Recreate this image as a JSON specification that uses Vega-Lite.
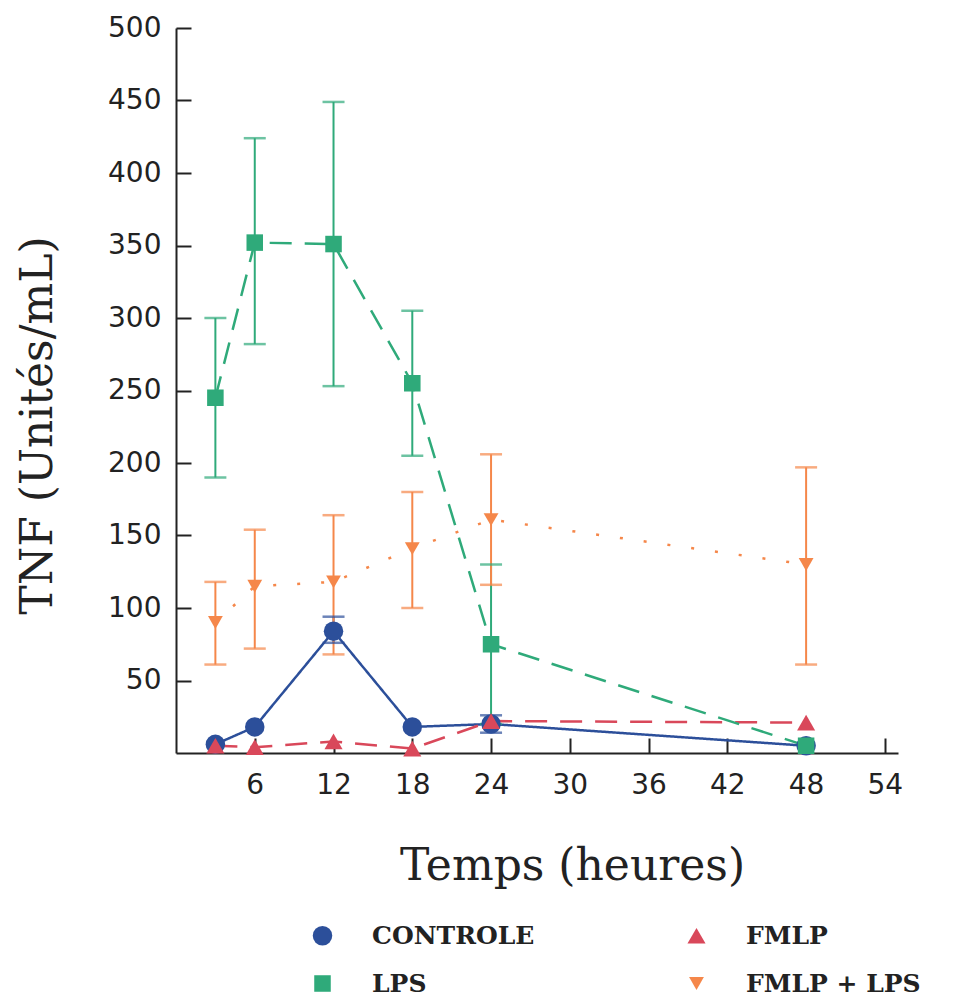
{
  "$schema": "https://vega.github.io/schema/vega-lite/v6.json",
  "width": 722,
  "height": 725,
  "autosize": "none",
  "padding": {"left": 176, "top": 28, "right": 59, "bottom": 250},
  "background": "white",
  "config": {
    "view": {"stroke": null},
    "axis": {
      "grid": false,
      "domainColor": "#222222",
      "domainWidth": 2,
      "tickColor": "#222222",
      "tickWidth": 2,
      "labelFont": "DejaVu Sans",
      "labelFontSize": 28,
      "labelColor": "#222222",
      "titleFont": "DejaVu Serif",
      "titleFontSize": 44,
      "titleFontWeight": "normal",
      "titleColor": "#222222"
    }
  },
  "data": {
    "values": [
      {"series": "CONTROLE", "t": 3, "v": 6},
      {"series": "CONTROLE", "t": 6, "v": 18},
      {"series": "CONTROLE", "t": 12, "v": 84, "lo": 76, "hi": 94},
      {"series": "CONTROLE", "t": 18, "v": 18},
      {"series": "CONTROLE", "t": 24, "v": 20, "lo": 14, "hi": 26},
      {"series": "CONTROLE", "t": 48, "v": 5},
      {"series": "FMLP", "t": 3, "v": 5},
      {"series": "FMLP", "t": 6, "v": 4},
      {"series": "FMLP", "t": 12, "v": 8},
      {"series": "FMLP", "t": 18, "v": 3},
      {"series": "FMLP", "t": 24, "v": 22},
      {"series": "FMLP", "t": 48, "v": 21},
      {"series": "LPS", "t": 3, "v": 245, "lo": 190, "hi": 300},
      {"series": "LPS", "t": 6, "v": 352, "lo": 282, "hi": 424},
      {"series": "LPS", "t": 12, "v": 351, "lo": 253, "hi": 449},
      {"series": "LPS", "t": 18, "v": 255, "lo": 205, "hi": 305},
      {"series": "LPS", "t": 24, "v": 75, "lo": 20, "hi": 130},
      {"series": "LPS", "t": 48, "v": 5},
      {"series": "FMLP + LPS", "t": 3, "v": 90, "lo": 61, "hi": 118},
      {"series": "FMLP + LPS", "t": 6, "v": 115, "lo": 72, "hi": 154},
      {"series": "FMLP + LPS", "t": 12, "v": 118, "lo": 68, "hi": 164},
      {"series": "FMLP + LPS", "t": 18, "v": 141, "lo": 100, "hi": 180},
      {"series": "FMLP + LPS", "t": 24, "v": 161, "lo": 116, "hi": 206},
      {"series": "FMLP + LPS", "t": 48, "v": 130, "lo": 61, "hi": 197}
    ]
  },
  "encoding": {
    "x": {
      "field": "t",
      "type": "quantitative",
      "scale": {"domain": [0, 55], "nice": false, "zero": false},
      "axis": {
        "values": [6, 12, 18, 24, 30, 36, 42, 48, 54],
        "tickSize": -15,
        "labelPadding": 33,
        "title": "Temps (heures)",
        "titleX": 396,
        "titleY": 113,
        "titleAlign": "center",
        "titleBaseline": "middle"
      }
    },
    "color": {
      "field": "series",
      "type": "nominal",
      "scale": {
        "domain": ["CONTROLE", "FMLP", "LPS", "FMLP + LPS"],
        "range": ["#2c4f9a", "#d9485a", "#2faa7a", "#f5874a"]
      },
      "legend": {
        "orient": "none",
        "legendX": 134,
        "legendY": 895,
        "direction": "horizontal",
        "columns": 2,
        "title": null,
        "padding": 0,
        "columnPadding": 149,
        "rowPadding": 22,
        "symbolSize": 220,
        "symbolStrokeWidth": 0,
        "symbolOpacity": 1,
        "labelOffset": 37,
        "labelLimit": 400,
        "labelFont": "DejaVu Serif",
        "labelFontWeight": "bold",
        "labelFontSize": 25,
        "labelColor": "#222222"
      }
    }
  },
  "layer": [
    {
      "mark": {"type": "line", "strokeWidth": 2.5},
      "encoding": {
        "y": {
          "field": "v",
          "type": "quantitative",
          "scale": {"domain": [0, 500], "nice": false},
          "axis": {
            "values": [50, 100, 150, 200, 250, 300, 350, 400, 450, 500],
            "tickSize": -15,
            "labelPadding": 30,
            "title": "TNF (Unités/mL)",
            "titleX": -138,
            "titleY": 397,
            "titleAngle": 270,
            "titleAlign": "center",
            "titleBaseline": "middle"
          }
        },
        "strokeDash": {
          "field": "series",
          "type": "nominal",
          "scale": {
            "domain": ["CONTROLE", "FMLP", "LPS", "FMLP + LPS"],
            "range": [[1, 0], [22, 13], [22, 13], [3, 21]]
          },
          "legend": null
        }
      }
    },
    {
      "transform": [{"filter": "isValid(datum.lo)"}],
      "mark": {"type": "rule", "strokeWidth": 2},
      "encoding": {
        "y": {"field": "lo", "type": "quantitative"},
        "y2": {"field": "hi"}
      }
    },
    {
      "transform": [{"filter": "isValid(datum.lo)"}],
      "mark": {"type": "tick", "orient": "horizontal", "size": 22, "thickness": 2.5},
      "encoding": {"y": {"field": "lo", "type": "quantitative"}}
    },
    {
      "transform": [{"filter": "isValid(datum.hi)"}],
      "mark": {"type": "tick", "orient": "horizontal", "size": 22, "thickness": 2.5},
      "encoding": {"y": {"field": "hi", "type": "quantitative"}}
    },
    {
      "mark": {"type": "point", "filled": true, "opacity": 1},
      "encoding": {
        "y": {"field": "v", "type": "quantitative"},
        "shape": {
          "field": "series",
          "type": "nominal",
          "scale": {
            "domain": ["CONTROLE", "FMLP", "LPS", "FMLP + LPS"],
            "range": ["circle", "triangle-up", "square", "triangle-down"]
          }
        },
        "size": {
          "field": "series",
          "type": "nominal",
          "scale": {
            "domain": ["CONTROLE", "FMLP", "LPS", "FMLP + LPS"],
            "range": [380, 220, 190, 260]
          },
          "legend": null
        }
      }
    }
  ]
}
